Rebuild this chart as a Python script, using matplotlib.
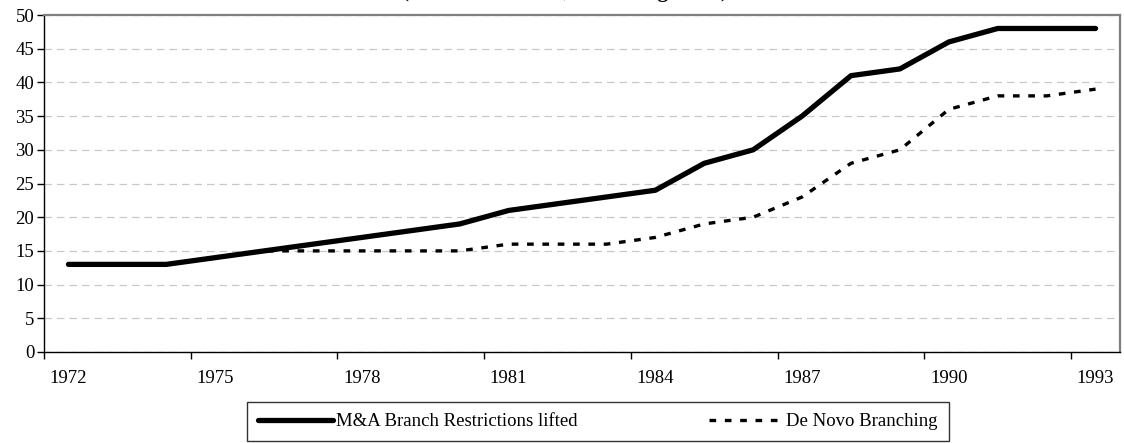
import matplotlib
matplotlib.use("Agg")
import matplotlib.pyplot as plt

# data
years = list(range(1972, 1994))
ma_lifted = [13, 13, 13, 14, 15, 16, 17, 18, 19, 21, 22, 23, 24,
             28, 30, 35, 41, 42, 46, 48, 48, 48]
de_novo = [13, 13, 13, 14, 15, 15, 15, 15, 15, 16, 16, 16, 17,
           19, 20, 23, 28, 30, 36, 38, 38, 39]
label_years = [1972, 1975, 1978, 1981, 1984, 1987, 1990, 1993]
y_ticks = list(range(0, 55, 5))

plt.rcParams['font.family'] = ['Liberation Serif', 'DejaVu Serif']
fs = 13.5

fig = plt.figure(figsize=(11.24, 4.43), dpi=100)
ax = fig.add_axes([44 / 1124, 1 - 352 / 443, 1076 / 1124, 337 / 443])

idx = list(range(len(years)))
ax.plot(idx, de_novo, color='black', lw=2.4, linestyle=(0, (2, 2.6)),
        label='De Novo Branching', zorder=3)
ax.plot(idx, ma_lifted, color='black', lw=3.8, solid_capstyle='round',
        label='M&A Branch Restrictions lifted', zorder=4)

ax.set_xlim(-0.5, len(years) - 0.5)
ax.set_ylim(0, 50)

# category axis: ticks at boundaries, labels at centres
ax.set_xticks([i - 0.5 for i in range(0, len(years), 3)])
ax.set_xticklabels([])
ax.tick_params(axis='x', which='major', length=5, direction='out', width=1)
ax.set_xticks([years.index(y) for y in label_years], minor=True)
ax.set_xticklabels([str(y) for y in label_years], minor=True, fontsize=fs)
ax.tick_params(axis='x', which='minor', length=0, pad=13)

ax.set_yticks(y_ticks)
ax.set_yticklabels([str(v) for v in y_ticks], fontsize=fs)
ax.tick_params(axis='y', length=5, direction='out', width=1, pad=2)

ax.yaxis.grid(True, color='#c8c8c8', linestyle=(0, (6, 4)), lw=0.9)
ax.set_axisbelow(True)

for side in ('top', 'right'):
    ax.spines[side].set_color('#808080')
    ax.spines[side].set_linewidth(1.6)
for side in ('left', 'bottom'):
    ax.spines[side].set_color('black')
    ax.spines[side].set_linewidth(1.0)

# title mostly cut off at the top edge in the reference
fig.text(565 / 1124, 1 + 2.5 / 443, '(Number of States, Branching Laws)',
         ha='center', va='baseline', fontsize=15, fontweight='bold')

handles, labels = ax.get_legend_handles_labels()
leg = fig.legend(handles[::-1], labels[::-1], ncol=2,
                 loc='center', bbox_to_anchor=(598 / 1124, 1 - 421.5 / 443),
                 fontsize=fs, frameon=True, fancybox=False, edgecolor='black',
                 handlelength=4.0, handletextpad=0.15, columnspacing=7.0,
                 borderpad=0.6, borderaxespad=0)
leg.get_frame().set_linewidth(1.0)

fig.savefig('out.png', dpi=100)
